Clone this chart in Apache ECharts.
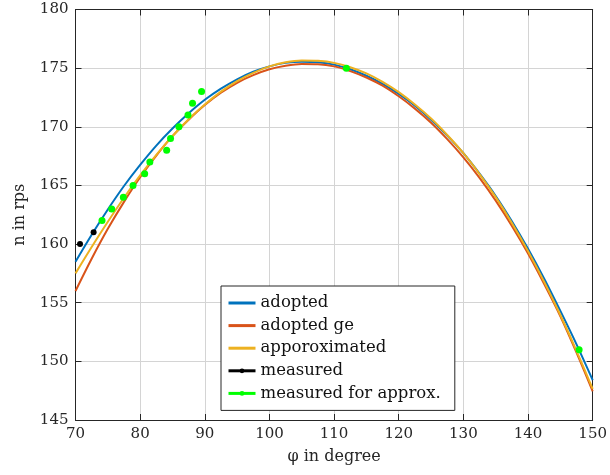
<!DOCTYPE html>
<html>
<head>
<meta charset="utf-8">
<script src="https://cdn.jsdelivr.net/npm/echarts@6/dist/echarts.min.js"></script>
<style>html,body{margin:0;padding:0;background:#fff}#c{width:610px;height:475px}</style>
</head>
<body>
<div id="c"></div>
<script>
// curve sample angles (degree), every 2.5 degree
const curveX = [70, 72.5, 75, 77.5, 80, 82.5, 85, 87.5, 90, 92.5, 95, 97.5, 100, 102.5, 105, 107.5, 110,
                112.5, 115, 117.5, 120, 122.5, 125, 127.5, 130, 132.5, 135, 137.5, 140, 142.5, 145, 147.5, 150];
const adopted = [158.5, 160.8, 162.95, 164.95, 166.75, 168.4, 169.85, 171.15, 172.3, 173.25, 174.05, 174.7, 175.15, 175.45, 175.55, 175.5, 175.3,
                 174.9, 174.35, 173.65, 172.8, 171.8, 170.6, 169.25, 167.75, 166.0, 164.1, 161.95, 159.6, 157.05, 154.3, 151.45, 148.4];
const adoptedGe = [156.0, 158.75, 161.3, 163.6, 165.7, 167.55, 169.2, 170.6, 171.85, 172.9, 173.75, 174.4, 174.9, 175.2, 175.35, 175.33, 175.15,
                   174.75, 174.2, 173.5, 172.6, 171.55, 170.35, 168.95, 167.4, 165.65, 163.7, 161.55, 159.2, 156.6, 153.85, 150.75, 147.45];
const approximated = [157.5, 159.75, 161.9, 163.95, 165.85, 167.6, 169.2, 170.65, 171.9, 173.0, 173.9, 174.6, 175.15, 175.5, 175.65, 175.62, 175.45,
                      175.08, 174.55, 173.83, 172.95, 171.9, 170.7, 169.3, 167.75, 165.97, 164.0, 161.8, 159.4, 156.78, 153.95, 150.9, 147.65];
// measured points
const measuredX = [70.7, 72.8];
const measuredY = [160, 161];
const approxX = [74.1, 75.6, 77.4, 78.9, 80.7, 81.5, 84.1, 84.7, 86.0, 87.4, 88.1, 89.5, 111.9, 147.9];
const approxY = [162, 163, 164, 165, 166, 167, 168, 169, 170, 171, 172, 173, 175, 151];
const xTicks = [70, 80, 90, 100, 110, 120, 130, 140, 150];
const yTicks = [145, 150, 155, 160, 165, 170, 175, 180];

const pair = (xs, ys) => xs.map((x, i) => [x, ys[i]]);
const font = "'DejaVu Serif', 'Liberation Serif', serif";
const chart = echarts.init(document.getElementById('c'), null, {renderer: 'canvas'});

const axisCommon = {
  axisLine: {show: true, onZero: false, lineStyle: {color: '#262626', width: 1}},
  axisTick: {show: true, inside: true, length: 6, lineStyle: {color: '#262626'}},
};

chart.setOption({
  animation: false,
  backgroundColor: '#fff',
  grid: {left: 75.5, right: 13, top: 9.5, bottom: 55, containLabel: false},
  xAxis: [
    Object.assign({
      type: 'value', min: xTicks[0], max: xTicks[xTicks.length - 1], interval: 10,
      position: 'bottom',
      name: 'φ in degree', nameLocation: 'middle', nameGap: 29,
      nameTextStyle: {fontFamily: font, fontSize: 16, color: '#262626'},
      axisLabel: {fontFamily: font, fontSize: 15, color: '#262626', margin: 7},
      splitLine: {show: true, lineStyle: {color: '#d4d4d4', width: 1}}
    }, axisCommon),
    Object.assign({
      type: 'value', min: xTicks[0], max: xTicks[xTicks.length - 1], interval: 10,
      position: 'top', axisLabel: {show: false}, splitLine: {show: false}
    }, axisCommon)
  ],
  yAxis: [
    Object.assign({
      type: 'value', min: yTicks[0], max: yTicks[yTicks.length - 1], interval: 5,
      position: 'left',
      name: 'n in rps', nameLocation: 'middle', nameGap: 48,
      nameTextStyle: {fontFamily: font, fontSize: 16, color: '#262626'},
      axisLabel: {fontFamily: font, fontSize: 15, color: '#262626', margin: 7},
      splitLine: {show: true, lineStyle: {color: '#d4d4d4', width: 1}}
    }, axisCommon),
    Object.assign({
      type: 'value', min: yTicks[0], max: yTicks[yTicks.length - 1], interval: 5,
      position: 'right', axisLabel: {show: false}, splitLine: {show: false}
    }, axisCommon)
  ],
  legend: {
    orient: 'vertical',
    left: 221, top: 286,
    padding: [8, 14, 8, 6],
    itemGap: 4.6,
    itemWidth: 27, itemHeight: 6,
    backgroundColor: '#fff',
    borderColor: '#262626', borderWidth: 1,
    textStyle: {fontFamily: font, fontSize: 16.5, color: '#111', lineHeight: 18},
    data: [
      {name: 'adopted', itemStyle: {opacity: 0}, lineStyle: {width: 3}},
      {name: 'adopted ge', itemStyle: {opacity: 0}, lineStyle: {width: 3}},
      {name: 'apporoximated', itemStyle: {opacity: 0}, lineStyle: {width: 3}},
      {name: 'measured', lineStyle: {width: 3, opacity: 1, color: '#000'}},
      {name: 'measured for approx.', lineStyle: {width: 3, opacity: 1, color: '#00ff00'}}
    ]
  },
  series: [
    {name: 'adopted', type: 'line', smooth: 0.3, symbol: 'none', data: pair(curveX, adopted),
     itemStyle: {color: '#0072BD'}, lineStyle: {color: '#0072BD', width: 2}},
    {name: 'adopted ge', type: 'line', smooth: 0.3, symbol: 'none', data: pair(curveX, adoptedGe),
     itemStyle: {color: '#D95319'}, lineStyle: {color: '#D95319', width: 2}},
    {name: 'apporoximated', type: 'line', smooth: 0.3, symbol: 'none', data: pair(curveX, approximated),
     itemStyle: {color: '#EDB120'}, lineStyle: {color: '#EDB120', width: 2}},
    {name: 'measured', type: 'line', symbol: 'circle', symbolSize: 6, data: pair(measuredX, measuredY),
     itemStyle: {color: '#000'}, lineStyle: {color: '#000', width: 0, opacity: 0}},
    {name: 'measured for approx.', type: 'line', symbol: 'circle', symbolSize: 7, data: pair(approxX, approxY),
     itemStyle: {color: '#00ff00'}, lineStyle: {color: '#00ff00', width: 0, opacity: 0}}
  ]
});
</script>
</body>
</html>
